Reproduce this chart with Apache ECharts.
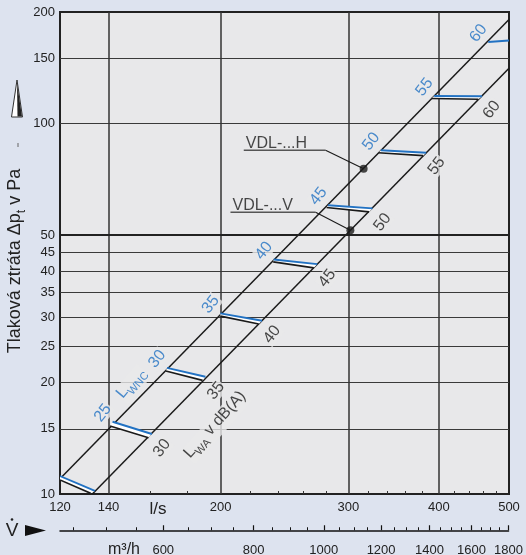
<!DOCTYPE html>
<html>
<head>
<meta charset="utf-8">
<script src="https://cdn.jsdelivr.net/npm/echarts@6/dist/echarts.min.js"></script>
<style>
  html, body { margin: 0; padding: 0; background: #dde3ef; }
  #chart { width: 526px; height: 555px; }
</style>
</head>
<body>
<div id="chart"></div>
<script>
// Volume flow: l/s (log scale) and the matching m³/h scale
const flowTicks = [120, 140, 200, 300, 400, 500];
const flowGrid = [140, 200, 300, 400];
const flowMinor = [160, 180, 220, 240, 260, 280, 320, 340, 360, 380, 420, 440, 460, 480];
const flowM3hTicks = [600, 800, 1000, 1200, 1400, 1600, 1800];
const flowM3hMinor = [450, 500, 550, 650, 700, 750, 850, 900, 950, 1050, 1100, 1150,
                      1250, 1300, 1350, 1450, 1500, 1550, 1650, 1700, 1750];

// Pressure loss in Pa (log scale)
const pressureTicks = [10, 15, 20, 25, 30, 35, 40, 45, 50, 100, 150, 200];
const pressureGrid = [15, 20, 25, 30, 35, 40, 45, 50, 100, 150];

// Characteristic lines [l/s, Pa]
const lineH = [[120, 11.0], [500, 191]];
const lineV = [[133, 10.0], [500, 141]];
const pointH = [315, 75.5];
const pointV = [302, 51.5];

// Sound level steps between the two lines: L_WNC (blue) and L_WA (black)
const wncFrom = [[120, 11.18], [141.8, 15.67], [168.6, 21.91], [199.8, 30.73], [236.7, 42.96],
                 [281.3, 60.2], [332.7, 84.7], [394.2, 118.7], [468.1, 166.0]];
const wncTo   = [[134.1, 10.2], [160.7, 14.52], [190.5, 20.72], [228.1, 29.35], [271.8, 41.73],
                 [324.0, 59.0], [384.2, 83.4], [459.0, 118.5], [500, 167.5]];
const waFrom  = [[120, 10.91], [140.7, 15.26], [168.0, 21.47], [199.8, 30.21], [236.3, 42.32],
                 [280.0, 59.34], [330.2, 83.4], [390.7, 116.8], null];
const waTo    = [[132.3, 10.04], [159.0, 14.19], [188.8, 20.26], [225.7, 28.75], [268.9, 40.78],
                 [320.5, 57.73], [380.7, 81.9], [453.7, 116.3], null];
const wncLevels = [null, 25, 30, 35, 40, 45, 50, 55, 60];
const waLevels  = [null, 30, 35, 40, 45, 50, 55, 60, null];

// Annotation anchors [l/s, Pa]
const tagH = [[215.2, 84.7], [279.1, 84.7]];
const tagV = [[206.3, 57.6], [270.4, 57.6]];
const wncNameAt = [151, 19.8];
const waNameAt = [197.2, 15.26];

const BLUE = '#2272c3';
const PLOT_BG = '#e8e8ea';
const INK = '#1a1a1a';
const FONT = 'Liberation Sans, Arial, sans-serif';

const chart = echarts.init(document.getElementById('chart'), null, { renderer: 'canvas' });

// Label offsets are given in the rotated text frame
const levelLabel = (color, offset) => ({
  show: true, position: 'inside', offset: offset, rotate: 52,
  align: 'center', verticalAlign: 'middle',
  color: color, fontSize: 16, fontFamily: FONT,
  backgroundColor: PLOT_BG, padding: [0, 1]
});

const subRich = (color) => ({
  b: { fontSize: 16, color: color, verticalAlign: 'bottom', padding: [0, 0, 4, 0], fontFamily: FONT },
  s: { fontSize: 11, color: color, verticalAlign: 'bottom', fontFamily: FONT }
});

const option = {
  backgroundColor: '#dde3ef',
  animation: false,
  textStyle: { fontFamily: FONT },
  grid: [
    { left: 60, right: 17, top: 12, bottom: 61, show: true, backgroundColor: PLOT_BG,
      borderColor: '#222', borderWidth: 2 },
    { left: 60, right: 17, top: 530, height: 1, show: false }
  ],
  xAxis: [
    { type: 'log', logBase: 10, gridIndex: 0, min: 120, max: 500, position: 'bottom',
      axisLine: { show: false },
      axisTick: { show: false, customValues: flowGrid },
      splitLine: { show: true, lineStyle: { color: '#333', width: 1.5 } },
      axisLabel: { customValues: flowTicks, margin: 7, fontSize: 13, color: '#222',
                   formatter: v => String(Math.round(v)) } },
    { type: 'log', logBase: 10, gridIndex: 0, min: 120, max: 500, position: 'bottom',
      axisLine: { show: false },
      axisTick: { show: true, inside: true, length: 3, customValues: flowMinor,
                  lineStyle: { color: '#333', width: 1 } },
      axisLabel: { show: false }, splitLine: { show: false } },
    { type: 'log', logBase: 10, gridIndex: 1, min: 432, max: 1800, position: 'bottom',
      axisLine: { show: true, lineStyle: { color: '#111', width: 1.5 } },
      axisTick: { show: true, inside: true, length: 5, customValues: flowM3hTicks,
                  lineStyle: { color: '#111', width: 1.2 } },
      axisLabel: { customValues: flowM3hTicks, margin: 14, fontSize: 13, color: '#222',
                   formatter: v => String(Math.round(v)) },
      splitLine: { show: false } },
    { type: 'log', logBase: 10, gridIndex: 1, min: 432, max: 1800, position: 'bottom',
      axisLine: { show: false },
      axisTick: { show: true, inside: true, length: 3, customValues: flowM3hMinor,
                  lineStyle: { color: '#111', width: 1 } },
      axisLabel: { show: false }, splitLine: { show: false } }
  ],
  yAxis: [
    { type: 'log', logBase: 10, gridIndex: 0, min: 10, max: 200,
      axisLine: { show: false },
      axisTick: { show: false, customValues: pressureGrid },
      splitLine: { show: true, lineStyle: { color: '#3a3a3a', width: 1.2 } },
      axisLabel: { customValues: pressureTicks, margin: 5, fontSize: 13, color: '#222',
                   formatter: v => String(Math.round(v)) } },
    { type: 'value', gridIndex: 1, min: 0, max: 1, show: false }
  ],
  series: [
    { type: 'line', name: 'VDL-...H', data: lineH, symbol: 'none', z: 3, clip: true,
      lineStyle: { color: INK, width: 1.5 },
      markLine: { silent: true, symbol: 'none', label: { show: false },
                  lineStyle: { color: '#222', width: 2.2, type: 'solid' },
                  data: [{ yAxis: 50 }] } },
    { type: 'line', name: 'VDL-...V', data: lineV, symbol: 'none', z: 3, clip: true,
      lineStyle: { color: INK, width: 1.5 } },
    { type: 'custom', name: 'levels', z: 4, clip: true,
      data: wncFrom.map((p, i) => [p[0], p[1], i]),
      encode: { x: 0, y: 1 },
      renderItem: function (params, api) {
        const i = api.value(2);
        const a = api.coord(wncFrom[i]);
        const b = api.coord(wncTo[i]);
        const children = [];
        if (waFrom[i]) {
          const c = api.coord(waFrom[i]);
          const d = api.coord(waTo[i]);
          children.push({ type: 'polygon', shape: { points: [a, b, d, c] }, style: { fill: '#ffffff' } });
          children.push({ type: 'line', shape: { x1: c[0], y1: c[1], x2: d[0], y2: d[1] },
                          style: { stroke: INK, lineWidth: 1.6 } });
        }
        children.push({ type: 'line', shape: { x1: a[0], y1: a[1], x2: b[0], y2: b[1] },
                        style: { stroke: BLUE, lineWidth: 1.9 } });
        return { type: 'group', children: children };
      } },
    { type: 'scatter', name: 'LWNC', z: 2, symbolSize: 0.1,
      itemStyle: { color: 'rgba(0,0,0,0)' },
      data: wncFrom.map((p, i) => wncLevels[i] ? { value: p, label: { formatter: String(wncLevels[i]) } } : null)
                   .filter(Boolean),
      label: levelLabel(BLUE, [1, -13]) },
    { type: 'scatter', name: 'LWA', z: 2, symbolSize: 0.1,
      itemStyle: { color: 'rgba(0,0,0,0)' },
      data: waTo.map((p, i) => waLevels[i] ? { value: p, label: { formatter: String(waLevels[i]) } } : null)
                .filter(Boolean),
      label: levelLabel(INK, [0, 17]) },
    { type: 'scatter', name: 'names', z: 2, symbolSize: 0.1,
      itemStyle: { color: 'rgba(0,0,0,0)' },
      data: [
        { value: wncNameAt, label: { formatter: '{b|L}{s|WNC}', rich: subRich(BLUE), rotate: 50 } },
        { value: waNameAt, label: { formatter: '{b|L}{s|WA}{b| v dB(A)}', rich: subRich(INK), rotate: 48 } }
      ],
      label: { show: true, position: 'inside', align: 'center', verticalAlign: 'middle',
               backgroundColor: PLOT_BG, padding: [0, 1] } },
    { type: 'line', data: tagH, symbol: 'none', z: 3, lineStyle: { color: '#555', width: 1.5 } },
    { type: 'line', data: tagV, symbol: 'none', z: 3, lineStyle: { color: '#555', width: 1.5 } },
    { type: 'line', data: [tagH[1], pointH], symbol: 'none', z: 3, lineStyle: { color: INK, width: 1.1 } },
    { type: 'line', data: [tagV[1], pointV], symbol: 'none', z: 3, lineStyle: { color: INK, width: 1.1 } },
    { type: 'scatter', name: 'points', z: 5, data: [pointH, pointV], symbolSize: 8,
      itemStyle: { color: INK } },
    { type: 'scatter', name: 'tags', z: 5, symbolSize: 0.1,
      itemStyle: { color: 'rgba(0,0,0,0)' },
      data: [
        { value: tagH[0], label: { formatter: 'VDL-...H' } },
        { value: tagV[0], label: { formatter: 'VDL-...V' } }
      ],
      label: { show: true, position: 'inside', align: 'left', verticalAlign: 'bottom',
               offset: [2, 1], fontSize: 16, color: INK } }
  ],
  graphic: [
    { type: 'text', x: 17, y: 261, rotation: Math.PI / 2,
      style: { text: '{a|Tlaková ztráta Δp}{s|t}{a| v Pa}',
               align: 'center', verticalAlign: 'middle',
               rich: {
                 a: { fontSize: 18, fill: '#222', verticalAlign: 'bottom', padding: [0, 0, 3, 0], fontFamily: FONT },
                 s: { fontSize: 12, fill: '#222', verticalAlign: 'bottom', fontFamily: FONT }
               } } },
    { type: 'polygon', shape: { points: [[17, 80], [22.5, 117], [11.5, 117]] },
      style: { fill: '#ffffff', stroke: '#333', lineWidth: 1 } },
    { type: 'polygon', shape: { points: [[17, 83], [22, 116.5], [17.5, 116.5]] },
      style: { fill: '#222' } },
    { type: 'rect', shape: { x: 17.5, y: 143, width: 1, height: 4 }, style: { fill: '#666' } },
    { type: 'text', x: 158, y: 509,
      style: { text: 'l/s', fontSize: 17, fill: '#222', align: 'center', verticalAlign: 'middle',
               fontFamily: FONT } },
    { type: 'text', x: 124, y: 550,
      style: { text: 'm³/h', fontSize: 16, fill: '#222', align: 'center', verticalAlign: 'middle',
               fontFamily: FONT } },
    { type: 'text', x: 12, y: 531,
      style: { text: 'V', fontSize: 19, fill: '#222', align: 'center', verticalAlign: 'middle',
               fontFamily: FONT } },
    { type: 'circle', shape: { cx: 12, cy: 519.5, r: 1.3 }, style: { fill: '#222' } },
    { type: 'polygon', shape: { points: [[25, 525], [46, 530.5], [25, 536]] }, style: { fill: '#111' } }
  ]
};

chart.setOption(option);
</script>
</body>
</html>
